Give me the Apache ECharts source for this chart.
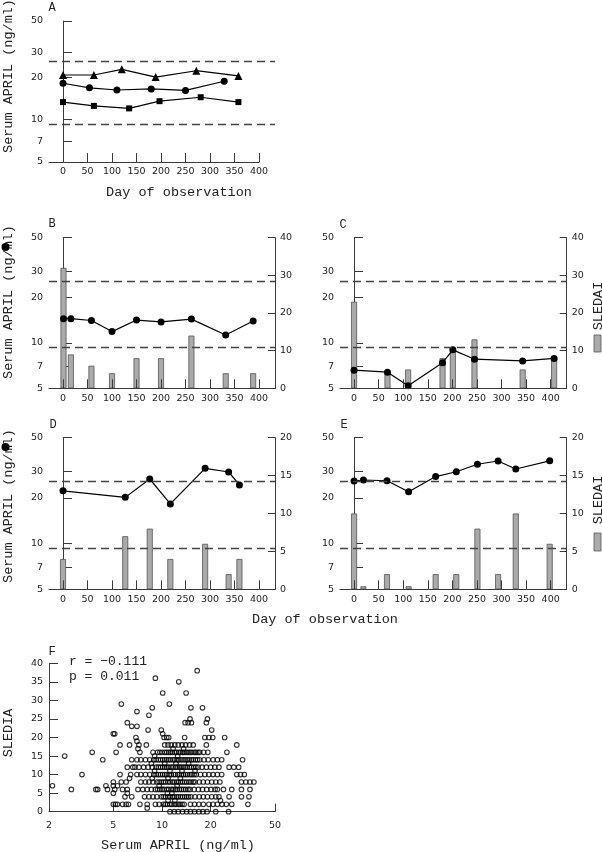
<!DOCTYPE html>
<html><head><meta charset="utf-8">
<script src="https://cdn.jsdelivr.net/npm/echarts@6/dist/echarts.min.js"></script>
<style>html,body{margin:0;padding:0;background:#fff}#c{width:602px;height:852px}</style>
</head><body><div id="c"></div>
<script>
// ---------- DATA ----------
const dayTicks = [0, 50, 100, 150, 200, 250, 300, 350, 400];
const aprilTicks = [5, 7, 10, 20, 30, 50];
const refHigh = 25.8, refLow = 9.3;

// Panel A (three patients)
const aTriDays = [0, 63, 120, 189, 272, 358];
const aTriVals = [20.7, 20.7, 22.7, 20.0, 22.2, 20.4];
const aCircDays = [0, 54, 110, 180, 250, 329];
const aCircVals = [18.1, 16.8, 16.2, 16.5, 16.1, 18.7];
const aSqDays = [0, 63, 135, 197, 281, 358];
const aSqVals = [13.3, 12.5, 12.0, 13.5, 14.4, 13.3];

// Panel B
const bDays = [1, 16, 58, 100, 150, 200, 262, 332, 388];
const bApril = [14.5, 14.5, 14.1, 11.9, 14.2, 13.8, 14.4, 11.3, 14.0];
const bSledai = [32, 9, 6, 4, 8, 8, 14, 4, 4];
// Panel C
const cDays = [0, 68, 110, 180, 201, 245, 343, 407];
const cApril = [6.6, 6.4, 5.2, 7.4, 9.0, 7.8, 7.6, 7.9];
const cSledai = [23, 4, 5, 8, 10, 13, 5, 8];
// Panel D
const dDays = [0, 127, 177, 219, 290, 338, 360];
const dApril = [22.3, 20.2, 26.7, 18.3, 31.4, 29.7, 24.4];
const dSledai = [4, 7, 8, 4, 6, 2, 4];
// Panel E
const eDays = [0, 19, 67, 111, 166, 208, 251, 293, 329, 398];
const eApril = [25.9, 26.3, 26.0, 22.0, 27.7, 29.8, 33.4, 35.1, 31.1, 35.2];
const eSledai = [10, 0.4, 2, 0.4, 2, 2, 8, 2, 10, 6];

// Panel F: SLEDAI row -> serum APRIL values
const fRows = [
  [38, [16.5]],
  [36, [9.1]],
  [35, [12.7]],
  [32, [10.1, 14.1]],
  [29, [5.6, 11.1]],
  [28, [8.7, 15.1, 17.8]],
  [27, [7.0]],
  [26, [8.3]],
  [25, [14.9, 19.1]],
  [24, [6.1, 13.9, 14.5, 15.2, 18.8]],
  [23, [6.5, 7.0]],
  [22, [8.2, 9.9, 20.3]],
  [21, [5.0, 5.1, 10.1]],
  [20, [6.9, 10.3, 10.7, 11.0, 13.8, 18.4, 19.5, 20.6, 24.4]],
  [19, [7.0]],
  [18, [5.5, 6.3, 7.2, 8.0, 10.4, 10.9, 11.4, 12.0, 12.6, 13.3, 14.0, 14.8, 15.6, 18.8, 29.0]],
  [17, [7.1, 11.7, 13.6]],
  [16, [3.7, 5.2, 7.3, 8.8, 9.4, 9.7, 10.0, 10.4, 10.7, 11.0, 11.3, 11.6, 12.0, 12.3, 12.7, 13.0, 13.4, 13.7, 14.1, 14.5, 14.9, 15.3, 15.8, 16.2, 16.7, 17.1, 18.1, 19.2, 25.2]],
  [15, [2.5, 9.0, 12.5]],
  [14, [4.3, 6.5, 7.0, 7.4, 7.9, 8.4, 8.9, 9.2, 9.5, 9.8, 10.1, 10.4, 10.7, 11.0, 11.3, 11.7, 12.0, 12.4, 12.7, 13.1, 13.5, 13.9, 14.3, 14.7, 15.2, 15.6, 16.1, 16.6, 17.1, 18.2, 19.3, 20.7, 22.0, 23.4, 31.5]],
  [13, [8.6, 10.4, 12.2, 14.6]],
  [12, [6.1, 6.6, 6.8, 7.2, 7.7, 8.2, 8.7, 9.2, 9.5, 9.8, 10.1, 10.4, 10.7, 11.0, 11.4, 11.7, 12.1, 12.4, 12.8, 13.1, 13.5, 13.9, 14.3, 14.8, 15.2, 15.7, 16.2, 16.7, 17.7, 18.8, 20.0, 21.2, 22.5, 26.0, 27.8, 29.8]],
  [11, [9.0, 11.2, 13.3, 16.0]],
  [10, [3.2, 5.5, 6.4, 7.0, 7.4, 7.9, 8.4, 8.9, 9.2, 9.5, 9.8, 10.1, 10.4, 10.7, 11.1, 11.4, 11.8, 12.1, 12.5, 12.8, 13.2, 13.6, 14.0, 14.4, 14.9, 15.3, 15.8, 16.3, 17.3, 18.4, 19.5, 20.7, 22.0, 23.4, 29.0, 30.6, 32.3]],
  [9, [6.3, 8.7, 10.9, 13.0]],
  [8, [5.0, 5.6, 6.0, 7.4, 7.9, 8.3, 8.8, 9.3, 9.6, 9.9, 10.2, 10.5, 10.9, 11.2, 11.6, 11.9, 12.3, 12.6, 13.0, 13.4, 13.8, 14.2, 14.7, 15.1, 15.6, 16.0, 17.0, 18.0, 19.1, 20.3, 21.5, 22.8, 31.0, 33.0, 35.0, 37.0]],
  [7, [2.1, 4.5, 5.0, 5.3, 9.6, 12.4]],
  [6, [2.75, 3.9, 4.0, 4.6, 5.1, 5.7, 6.1, 7.1, 7.6, 8.1, 8.6, 9.1, 9.4, 9.7, 10.0, 10.3, 10.7, 11.0, 11.4, 11.7, 12.1, 12.4, 12.8, 13.2, 13.6, 14.0, 14.5, 14.9, 15.8, 16.8, 17.8, 18.9, 20.1, 21.3, 22.0, 24.0, 27.0, 31.0, 35.0]],
  [5, [5.0, 6.1, 10.8, 11.5]],
  [4, [5.9, 6.5, 7.8, 8.3, 8.8, 9.3, 9.9, 10.2, 10.5, 10.9, 11.2, 11.6, 11.9, 12.3, 12.6, 13.0, 13.4, 13.8, 14.2, 14.6, 15.1, 16.0, 17.0, 18.0, 19.1, 20.3, 21.5, 22.5, 26.0, 31.0, 34.5]],
  [3, [10.9, 12.0, 23.0]],
  [2, [5.0, 5.15, 5.3, 5.7, 6.0, 6.2, 7.3, 8.1, 9.1, 9.6, 10.2, 10.5, 10.8, 11.2, 11.5, 11.9, 12.2, 12.6, 12.9, 13.3, 13.7, 15.0, 15.9, 16.9, 18.0, 19.5, 20.7, 22.0, 23.5, 25.0, 27.0, 34.0]],
  [1, [8.1]],
  [0, [11.2, 11.9, 12.6, 13.4, 14.2, 15.0, 15.9, 16.9, 17.9, 19.0, 21.5, 25.8]]
];
const fXTicks = [2, 5, 10, 20, 50];

// ---------- STYLE ----------
const AX = '#3a3a3a';
const TXT = '#222';
const tickFont = {fontFamily: 'DejaVu Sans', fontSize: 9.5, color: TXT};
const monoFont = '13.5px "Liberation Mono"';
const zip = (xs, ys) => xs.map((x, i) => [x, ys[i]]);

function dayAxis(gi, max, show) {
  return {
    type: 'value', gridIndex: gi, min: -28.6, max: max, show: show !== false, z: 5,
    axisLine: {show: true, lineStyle: {color: AX, width: 1}},
    axisTick: {show: true, inside: true, length: 9, customValues: dayTicks, lineStyle: {color: AX}},
    axisLabel: Object.assign({customValues: dayTicks, margin: 5}, tickFont),
    splitLine: {show: false}
  };
}
function logAxis(gi, show) {
  return {
    type: 'log', logBase: 10, gridIndex: gi, min: 5, max: 50, position: 'left', show: show !== false,
    axisLine: {show: true, lineStyle: {color: AX, width: 1}},
    axisTick: {show: true, inside: true, length: 9, customValues: aprilTicks, lineStyle: {color: AX}},
    axisLabel: Object.assign({customValues: aprilTicks, margin: 6}, tickFont),
    splitLine: {show: false}
  };
}
function rightAxis(gi, max, interval) {
  return {
    type: 'value', gridIndex: gi, position: 'right', min: 0, max: max, interval: interval,
    axisLine: {show: true, lineStyle: {color: AX, width: 1}},
    axisTick: {show: true, inside: true, length: 7, lineStyle: {color: AX}},
    axisLabel: Object.assign({margin: 5}, tickFont),
    splitLine: {show: false}
  };
}
const refLines = {
  symbol: 'none', silent: true, label: {show: false},
  lineStyle: {type: [8, 5], color: '#444', width: 1.3},
  data: [{yAxis: refHigh}, {yAxis: refLow}]
};
function lineSeries(xi, yi, data, symbol, size, withRef) {
  const s = {
    type: 'line', xAxisIndex: xi, yAxisIndex: yi, data: data,
    symbol: symbol, symbolSize: size, z: 4,
    lineStyle: {color: '#000', width: 1.2}, itemStyle: {color: '#000'}
  };
  if (withRef) s.markLine = refLines;
  return s;
}
function barSeries(xi, yi, data) {
  return {
    type: 'bar', xAxisIndex: xi, yAxisIndex: yi, data: data, barWidth: 6, z: 2,
    itemStyle: {color: '#aaaaaa', borderColor: '#555', borderWidth: 0.8}
  };
}

const scatterData = [];
fRows.forEach(r => r[1].forEach(v => scatterData.push([v, r[0]])));

const option = {
  animation: false,
  grid: [
    {left: 49, top: 21, width: 210, height: 141},
    {left: 49, top: 21, width: 226, height: 141},
    {left: 49, top: 237.7, width: 226, height: 150.6},
    {left: 340, top: 237.7, width: 226.7, height: 150.6},
    {left: 49, top: 437.7, width: 226, height: 151.6},
    {left: 340, top: 437.7, width: 226.7, height: 151.6},
    {left: 49, top: 663.3, width: 226, height: 148.4}
  ],
  xAxis: [
    dayAxis(0, 400),
    dayAxis(1, 432.6, false),
    dayAxis(2, 432.6),
    dayAxis(3, 432.6),
    dayAxis(4, 432.6),
    dayAxis(5, 432.6),
    {
      type: 'log', logBase: 10, gridIndex: 6, min: 2, max: 50,
      axisLine: {show: true, lineStyle: {color: AX}},
      axisTick: {show: true, inside: true, length: 8, customValues: [5, 10, 20, 50], lineStyle: {color: AX}},
      axisLabel: Object.assign({customValues: fXTicks, margin: 9}, tickFont),
      splitLine: {show: false}
    }
  ],
  yAxis: [
    logAxis(0),
    logAxis(1, false),
    logAxis(2), rightAxis(2, 40, 10),
    logAxis(3), rightAxis(3, 40, 10),
    logAxis(4), rightAxis(4, 20, 5),
    logAxis(5), rightAxis(5, 20, 5),
    {
      type: 'value', gridIndex: 6, min: 0, max: 40, interval: 5,
      axisLine: {show: true, lineStyle: {color: AX}},
      axisTick: {show: true, inside: true, length: 9, lineStyle: {color: AX}},
      axisLabel: Object.assign({margin: 6}, tickFont),
      splitLine: {show: false}
    }
  ],
  series: [
    lineSeries(0, 0, zip(aTriDays, aTriVals), 'triangle', 8),
    lineSeries(0, 0, zip(aCircDays, aCircVals), 'circle', 7),
    lineSeries(0, 0, zip(aSqDays, aSqVals), 'rect', 6),
    {type: 'line', xAxisIndex: 1, yAxisIndex: 1, data: [], markLine: refLines},
    barSeries(2, 3, zip(bDays, bSledai)),
    lineSeries(2, 2, zip(bDays, bApril), 'circle', 7, true),
    barSeries(3, 5, zip(cDays, cSledai)),
    lineSeries(3, 4, zip(cDays, cApril), 'circle', 7, true),
    barSeries(4, 7, zip(dDays, dSledai)),
    lineSeries(4, 6, zip(dDays, dApril), 'circle', 7, true),
    barSeries(5, 9, zip(eDays, eSledai)),
    lineSeries(5, 8, zip(eDays, eApril), 'circle', 7, true),
    {
      type: 'scatter', xAxisIndex: 6, yAxisIndex: 10, data: scatterData,
      symbol: 'circle', symbolSize: 4.6,
      itemStyle: {color: 'rgba(255,255,255,0)', borderColor: '#000', borderWidth: 1.1}
    }
  ],
  graphic: []
};

function txt(x, y, text, font, rot, align) {
  return {type: 'text', x: x, y: y, rotation: rot || 0, z: 100,
    style: {text: text, font: font, fill: TXT, textAlign: align || 'center', textVerticalAlign: 'middle'}};
}
const letterFont = '12px "Liberation Mono"';
const g = option.graphic;
g.push(txt(52, 8, 'A', letterFont, 0, 'center'));
g.push(txt(52, 224, 'B', letterFont, 0, 'center'));
g.push(txt(343, 225, 'C', letterFont, 0, 'center'));
g.push(txt(53, 425, 'D', letterFont, 0, 'center'));
g.push(txt(344, 425, 'E', letterFont, 0, 'center'));
g.push(txt(52, 652, 'F', letterFont, 0, 'center'));
// axis titles
g.push(txt(8, 76, 'Serum APRIL (ng/ml)', monoFont, Math.PI / 2));
g.push(txt(179, 192, 'Day of observation', monoFont, 0));
g.push(txt(8, 302, 'Serum APRIL (ng/ml)', monoFont, Math.PI / 2));
g.push(txt(8, 506, 'Serum APRIL (ng/ml)', monoFont, Math.PI / 2));
g.push({type: 'circle', shape: {cx: 5.5, cy: 247, r: 4}, style: {fill: '#000'}, z: 101});
g.push({type: 'circle', shape: {cx: 5.5, cy: 447, r: 4}, style: {fill: '#000'}, z: 101});
g.push(txt(598, 306, 'SLEDAI', monoFont, Math.PI / 2));
g.push({type: 'rect', shape: {x: 594, y: 335, width: 7, height: 17}, style: {fill: '#aaaaaa', stroke: '#555', lineWidth: 0.8}, z: 101});
g.push(txt(598, 500, 'SLEDAI', monoFont, Math.PI / 2));
g.push({type: 'rect', shape: {x: 594, y: 533, width: 7, height: 18}, style: {fill: '#aaaaaa', stroke: '#555', lineWidth: 0.8}, z: 101});
g.push(txt(325, 619, 'Day of observation', monoFont, 0));
g.push(txt(69, 662, 'r = \u22120.111', '13px "Liberation Mono"', 0, 'left'));
g.push(txt(69, 677, 'p = 0.011', '13px "Liberation Mono"', 0, 'left'));
g.push(txt(8, 733, 'SLEDIA', monoFont, Math.PI / 2));
g.push(txt(178, 845, 'Serum APRIL (ng/ml)', monoFont, 0));

const chart = echarts.init(document.getElementById('c'), null, {renderer: 'canvas'});
chart.setOption(option);
</script></body></html>
